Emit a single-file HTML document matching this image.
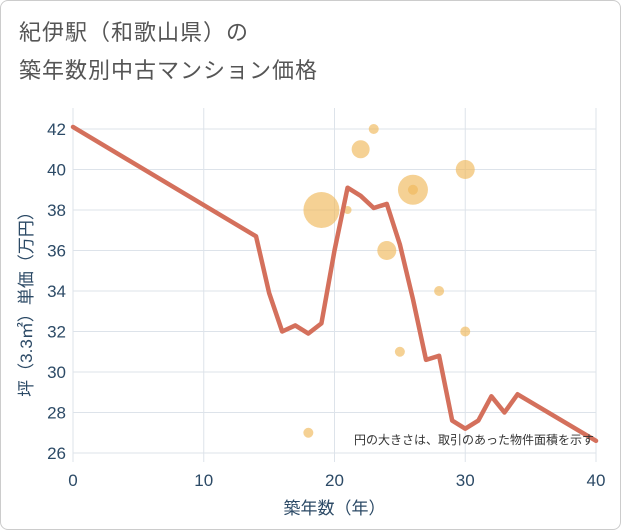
<!DOCTYPE html>
<html><head><meta charset="utf-8"><style>
html,body{margin:0;padding:0;background:#fff;}
#wrap{position:relative;width:619px;height:528px;border:1px solid #ccc;border-radius:8px;overflow:hidden;background:#fff;}
.t{position:absolute;left:18px;font:22px "Liberation Sans","Noto Sans CJK JP",sans-serif;color:#555;letter-spacing:1px;}
svg text{font-family:"Liberation Sans","Noto Sans CJK JP",sans-serif;}
</style></head><body>
<div id="wrap">
<div class="t" style="top:14px">紀伊駅（和歌山県）の</div>
<div class="t" style="top:52px">築年数別中古マンション価格</div>
<svg id="svg" width="621" height="530" style="position:absolute;left:-1px;top:-1px"></svg>
</div>
<script>
const lineYears=[0,14,15,16,17,18,19,20,21,22,23,24,25,26,27,28,29,30,31,32,33,34,40];
const linePrices=[42.1,36.7,33.9,32,32.3,31.9,32.4,36,39.1,38.7,38.1,38.3,36.3,33.6,30.6,30.8,27.6,27.2,27.6,28.8,28,28.9,26.6];
const bubbleYears=[19,21,22,23,24,25,26,26,28,30,30,18];
const bubblePrices=[38,38,41,42,36,31,39,39,34,40,32,27];
const bubbleSizes=[18,4,9,5,9.5,5,15,5,5,9.5,5,5];
const xTicks=[0,10,20,30,40];
const yTicks=[26,28,30,32,34,36,38,40,42];
const NS='http://www.w3.org/2000/svg';
const svg=document.getElementById('svg');
const X0=73,X1=596,Y0=453,Y1=129;
const xs=v=>X0+(v-0)/(40-0)*(X1-X0);
const ys=v=>Y0-(v-26)/(42-26)*(Y0-Y1);
function mk(tag,attrs,parent){const e=document.createElementNS(NS,tag);for(const k in attrs)e.setAttribute(k,attrs[k]);(parent||svg).appendChild(e);return e;}
const grid=mk('g',{});


for(const t of xTicks){
 const l=mk('line',{x1:xs(t),x2:xs(t),y1:108,y2:462,stroke:'#dde3ea','stroke-width':1},grid);
 
 
 const tx=mk('text',{x:xs(t),y:486,'text-anchor':'middle','font-size':17,fill:'#2c4a66'});
 tx.textContent=t;
 
 
}
for(const t of yTicks){
 const l=mk('line',{x1:X0,x2:X1,y1:ys(t),y2:ys(t),stroke:'#dde3ea','stroke-width':1},grid);
 
 
 const tx=mk('text',{x:66,y:ys(t)+6,'text-anchor':'end','font-size':17,fill:'#2c4a66'});
 tx.textContent=t;
 
 
}
const bg=mk('g',{});


bubbleYears.forEach((yr,i)=>{
 const c=mk('circle',{cx:xs(yr),cy:ys(bubblePrices[i]),r:bubbleSizes[i],fill:'rgba(240,185,90,0.65)'},bg);
 
 
});
const pts=lineYears.map((y,i)=>xs(y)+','+ys(linePrices[i])).join(' ');
const pl=mk('polyline',{points:pts,fill:'none',stroke:'#d4705c','stroke-width':4.5,'stroke-linejoin':'round','stroke-linecap':'round'});


const note=mk('text',{x:594,y:444,'text-anchor':'end','font-size':12,fill:'#333'});
note.textContent='円の大きさは、取引のあった物件面積を示す';


const xt=mk('text',{x:xs(20),y:514,'text-anchor':'middle','font-size':17,fill:'#2c4a66'});
xt.textContent='築年数（年）';


const yt=mk('text',{x:0,y:0,'text-anchor':'middle','font-size':17,fill:'#2c4a66',transform:'translate(32,300) rotate(-90)'});
yt.textContent='坪（3.3㎡）単価（万円）';


</script>
</body></html>
